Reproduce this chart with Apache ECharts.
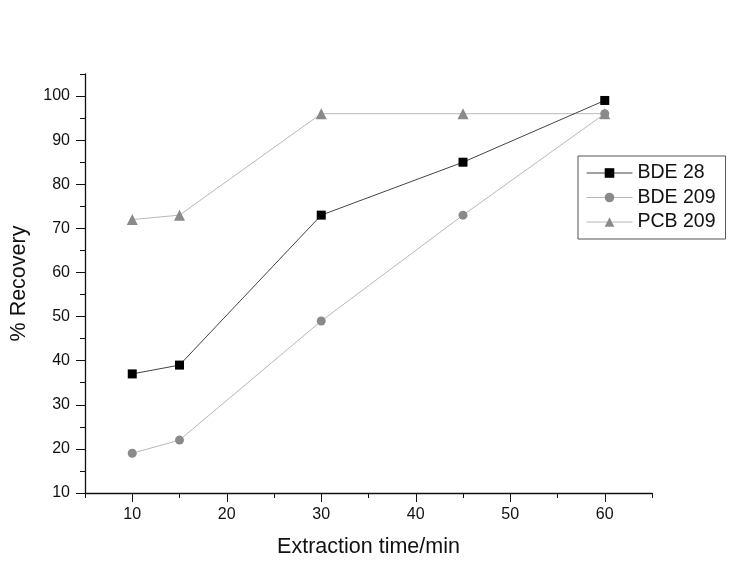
<!DOCTYPE html>
<html><head><meta charset="utf-8">
<script src="https://cdn.jsdelivr.net/npm/echarts@6/dist/echarts.min.js"></script>
<style>html,body{margin:0;padding:0;background:#fff}#c{width:752px;height:584px}</style>
</head><body><div id="c"></div>
<script>
const times = [10, 15, 30, 45, 60];
const bde28 = [37, 39, 73, 85, 99];
const bde209 = [19, 22, 49, 73, 96];
const pcb209 = [72, 73, 96, 96, 96];
const xMajor = [10, 20, 30, 40, 50, 60];
const yMajor = [10, 20, 30, 40, 50, 60, 70, 80, 90, 100];
const seriesNames = ['BDE 28', 'BDE 209', 'PCB 209'];

const font = 'Liberation Sans, Arial, sans-serif';
const pair = v => times.map((t, i) => [t, v[i]]);
const chart = echarts.init(document.getElementById('c'), null, {renderer: 'canvas'});
const axisLine = {show: true, lineStyle: {color: '#111', width: 1.3}};
chart.setOption({
  backgroundColor: '#fff',
  animation: false,
  grid: {left: 85, right: 100, top: 74, bottom: 91},
  legend: {
    orient: 'vertical', left: 578, top: 156,
    padding: [7, 10, 7, 8], itemGap: 4.5, itemWidth: 46, itemHeight: 12,
    borderColor: '#555', borderWidth: 1,
    lineStyle: {width: 1},
    textStyle: {fontFamily: font, fontSize: 19.5, lineHeight: 20, color: '#111'},
    data: seriesNames
  },
  xAxis: [
    {type: 'value', min: 5, max: 65, interval: 5,
     name: 'Extraction time/min', nameLocation: 'middle', nameGap: 43,
     nameTextStyle: {fontFamily: font, fontSize: 21.5, color: '#111'},
     axisLine: axisLine, splitLine: {show: false},
     axisTick: {show: true, inside: false, length: 5, lineStyle: {color: '#111'}},
     axisLabel: {fontFamily: font, fontSize: 16, color: '#111', margin: 14,
       formatter: v => (v % 10 === 0 ? String(v) : '')}},
    {type: 'value', min: 5, max: 65, position: 'bottom',
     axisLine: {show: false}, splitLine: {show: false},
     axisTick: {show: true, length: 9, customValues: xMajor, lineStyle: {color: '#111'}},
     axisLabel: {show: false}}
  ],
  yAxis: [
    {type: 'value', min: 10, max: 105, interval: 5,
     name: '% Recovery', nameLocation: 'middle', nameGap: 55,
     nameTextStyle: {fontFamily: font, fontSize: 21.5, color: '#111'},
     axisLine: axisLine, splitLine: {show: false},
     axisTick: {show: true, length: 5, lineStyle: {color: '#111'}},
     axisLabel: {fontFamily: font, fontSize: 16, color: '#111', margin: 15,
       formatter: v => (v % 10 === 0 && v <= 100 ? String(v) : '')}},
    {type: 'value', min: 10, max: 105, position: 'left',
     axisLine: {show: false}, splitLine: {show: false},
     axisTick: {show: true, length: 9, customValues: yMajor, lineStyle: {color: '#111'}},
     axisLabel: {show: false}}
  ],
  series: [
    {name: seriesNames[2], type: 'line', data: pair(pcb209), symbol: 'triangle', symbolSize: 11,
     itemStyle: {color: '#8a8a8a'}, lineStyle: {color: '#b8b8b8', width: 1}, z: 2},
    {name: seriesNames[1], type: 'line', data: pair(bde209), symbol: 'circle', symbolSize: 9,
     itemStyle: {color: '#8a8a8a'}, lineStyle: {color: '#b8b8b8', width: 1}, z: 3},
    {name: seriesNames[0], type: 'line', data: pair(bde28), symbol: 'rect', symbolSize: 9,
     itemStyle: {color: '#000'}, lineStyle: {color: '#444', width: 1}, z: 4}
  ]
});
</script></body></html>
